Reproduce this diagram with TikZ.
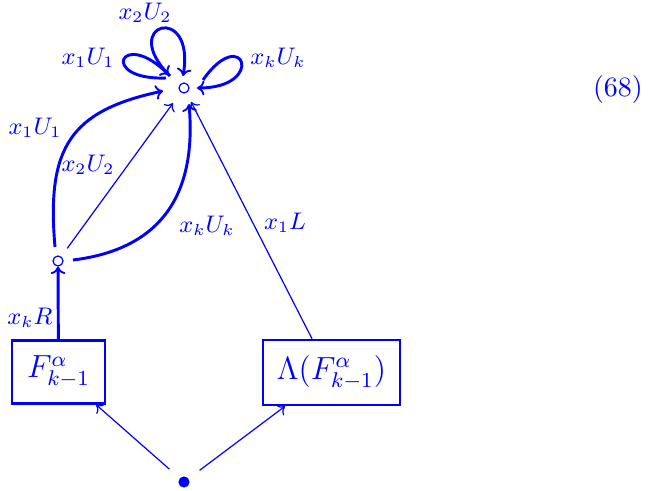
\documentclass[tikz,border=0pt]{standalone}
\usepackage{amsmath}
\usepackage{amssymb}
\usepackage{tikz}
\usetikzlibrary{arrows.meta}

\tikzset{
  vtx/.style={circle,draw=blue,line width=0.45pt,inner sep=0pt,minimum size=3.75pt},
  bdot/.style={circle,fill=blue,inner sep=0pt,minimum size=4.2pt},
  obj/.style={draw=blue,line width=0.9pt,inner sep=0pt,text=blue,font=\fontsize{11.5}{13}\selectfont},
  thinar/.style={-{To[length=2.6pt,width=5pt]},blue,line width=0.45pt},
  thickar/.style={-{To[length=2.8pt,width=5.5pt,line width=0.7pt]},blue,line width=1.1pt},
  lbl/.style={text=blue,inner sep=0pt,font=\small},
}

\begin{document}
\begin{tikzpicture}[x=0.375pt,y=0.375pt]
    \useasboundingbox (0,0) rectangle (649,491);

    \node[vtx] (top) at (184,403) {};
    \node[vtx] (mid) at (58,230) {};
    \node[obj,minimum width=35pt,minimum height=23.6pt] (F) at (58.5,119) {$F^{\alpha}_{k-1}$};
    \node[obj,minimum width=51.4pt,minimum height=24.4pt] (LF) at (331.5,118.5) {$\Lambda(F^{\alpha}_{k-1})$};
    \node[bdot] (base) at (184,9) {};

    \draw[thinar,shorten <=5pt] (base) -- (F.-41);
    \draw[thinar,shorten <=5pt] (base) -- (LF.-144);
    \draw[thickar] (F) -- (mid);
    \draw[thinar,shorten <=3.75pt,shorten >=4.9pt] (mid) -- (top);
    \draw[thinar,shorten >=3.75pt] (LF.120) -- (top);
    \draw[thickar] ([shift={(-3,14)}]mid.center) .. controls +(95:100) and +(192:95) .. ([shift={(-21,-3)}]top.center);
    \draw[thickar] ([shift={(15,1)}]mid.center) .. controls +(7:85) and +(-85:95) .. ([shift={(5,-16)}]top.center);

    \draw[thickar] ([shift={(-18,10)}]top.center) .. controls +(182:68) and +(135:68) .. ([shift={(-15,13)}]top.center);
    \draw[thickar] ([shift={(-14,12)}]top.center) .. controls +(135:75) and +(80:75) .. ([shift={(-1,12)}]top.center);
    \draw[thickar] ([shift={(19,8)}]top.center) .. controls +(55:70) and +(0:70) .. ([shift={(13,0)}]top.center);

    \node[lbl] (lab2) at (145,478) {$x_2U_2$};
    \node[lbl] (lab1) at (88,433) {$x_1U_1$};
    \node[lbl] (labk) at (278,433) {$x_kU_k$};
    \node[lbl] (lab1c) at (35,363) {$x_1U_1$};
    \node[lbl] (lab2l) at (88,326) {$x_2U_2$};
    \node[lbl] (labkc) at (207,265) {$x_kU_k$};
    \node[lbl] (labL) at (285,268) {$x_1L$};
    \node[lbl] (labR) at (30,173) {$x_kR$};
    \node[lbl,font=\fontsize{10.5}{12}\selectfont] (eqno) at (618,402) {(68)};
\end{tikzpicture}
\end{document}
